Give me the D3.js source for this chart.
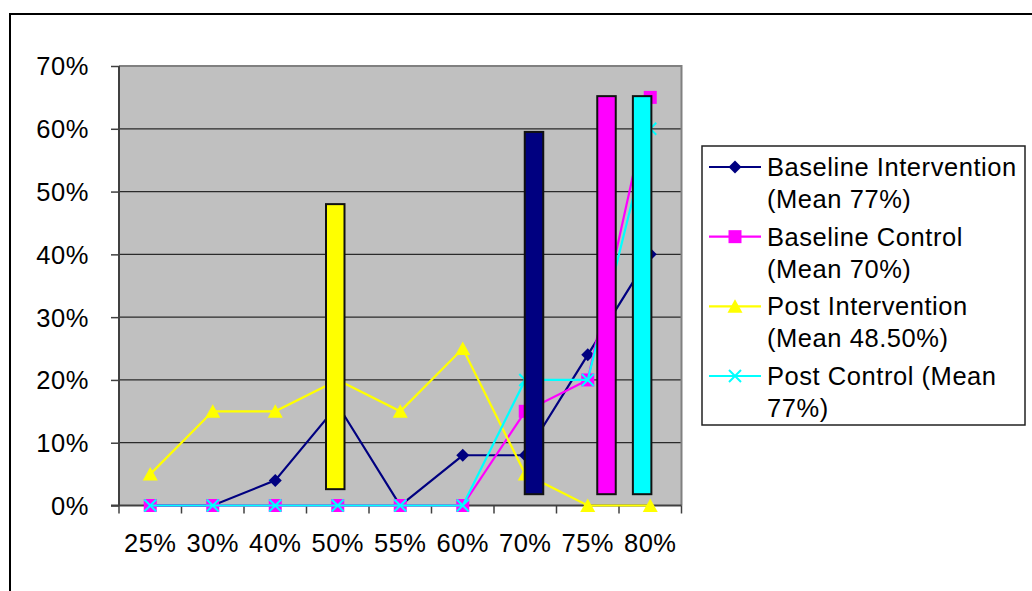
<!DOCTYPE html>
<html>
<head>
<meta charset="utf-8">
<script src="https://cdn.jsdelivr.net/npm/d3@7"></script>
<style>
  html, body { margin: 0; padding: 0; background: #fff; }
  svg { display: block; }
  text { font-family: "Liberation Sans", Arial, sans-serif; fill: #000; }
</style>
</head>
<body>
<svg id="chart" width="1032" height="591"></svg>
<script>
// ---- data ----
const categories = ["25%", "30%", "40%", "50%", "55%", "60%", "70%", "75%", "80%"];
const baselineIntervention = [0, 0, 4, 16, 0, 8, 8, 24, 40];
const baselineControl      = [0, 0, 0, 0, 0, 0, 15, 20, 65];
const postIntervention     = [5, 15, 15, 20, 15, 25, 5, 0, 0];
const postControl          = [0, 0, 0, 0, 0, 0, 20, 20, 60];
const yTickValues = [0, 10, 20, 30, 40, 50, 60, 70];
const yTickLabels = ["0%", "10%", "20%", "30%", "40%", "50%", "60%", "70%"];
const seriesNames = ["Baseline Intervention", "Baseline Control", "Post Intervention", "Post Control"];
const legendLines = [
  ["Baseline Intervention", "(Mean 77%)"],
  ["Baseline Control", "(Mean 70%)"],
  ["Post Intervention", "(Mean 48.50%)"],
  ["Post Control (Mean", "77%)"]
];
// floating bars: which series colour, position in category-index units, low and high values (%)
const barSeries = ["Post Intervention", "Baseline Intervention", "Baseline Control", "Post Control"];
const barPositions = [2.96, 6.14, 7.30, 7.87];
const barLows  = [2.6, 1.8, 1.8, 1.8];
const barHighs = [48, 59.5, 65.2, 65.2];

// ---- styles ----
const colors = {
  "Baseline Intervention": "#000080",
  "Baseline Control": "#ff00ff",
  "Post Intervention": "#ffff00",
  "Post Control": "#00ffff"
};
const markers = {
  "Baseline Intervention": "diamond",
  "Baseline Control": "square",
  "Post Intervention": "triangle",
  "Post Control": "x"
};
const seriesValues = {
  "Baseline Intervention": baselineIntervention,
  "Baseline Control": baselineControl,
  "Post Intervention": postIntervention,
  "Post Control": postControl
};

const svg = d3.select("#chart");
const plot = { left: 119, top: 66, right: 681.5, bottom: 505.5 };
const FONT = 25.5, LS = "0.55px";

// outer frame
svg.append("rect").attr("x", 10).attr("y", 14).attr("width", 1040).attr("height", 600)
  .attr("fill", "none").attr("stroke", "#000").attr("stroke-width", 2);

const x = d3.scaleBand().domain(categories).range([plot.left, plot.right]).padding(0);
const xc = c => x(c) + x.bandwidth() / 2;
const xi = d3.scaleLinear().domain([0, categories.length - 1])
  .range([xc(categories[0]), xc(categories[categories.length - 1])]);
const y = d3.scaleLinear().domain([0, 70]).range([plot.bottom, plot.top]);

// plot area
svg.append("rect").attr("x", plot.left).attr("y", plot.top)
  .attr("width", plot.right - plot.left).attr("height", plot.bottom - plot.top)
  .attr("fill", "#c0c0c0");

// gridlines
svg.append("g").selectAll("line").data(yTickValues.filter(v => v > 0 && v < 70)).join("line")
  .attr("x1", plot.left).attr("x2", plot.right)
  .attr("y1", d => y(d)).attr("y2", d => y(d))
  .attr("stroke", "#2a2a2a").attr("stroke-width", 1.3);
// top and right border of plot area
svg.append("path")
  .attr("d", `M${plot.left},${plot.top}H${plot.right}V${plot.bottom}`)
  .attr("fill", "none").attr("stroke", "#808080").attr("stroke-width", 2);

// y axis
const yAxis = d3.axisLeft(y).tickValues(yTickValues)
  .tickFormat((d, i) => yTickLabels[i]).tickSize(8).tickPadding(22);
const gy = svg.append("g").attr("transform", `translate(${plot.left},0)`).call(yAxis);
gy.select(".domain").attr("stroke", "#404040").attr("stroke-width", 2)
  .attr("d", `M0,${plot.top}V${plot.bottom}`);
gy.selectAll(".tick line").attr("stroke", "#404040").attr("stroke-width", 1.5);
gy.selectAll(".tick text").attr("font-size", FONT).attr("letter-spacing", LS)
  .attr("dy", "0.35em").style("font-family", '"Liberation Sans", Arial, sans-serif').attr("fill", "#000");

// x axis: ticks at category boundaries
const gx = svg.append("g").attr("transform", `translate(0,${plot.bottom})`);
gx.append("line").attr("x1", plot.left - 8).attr("x2", plot.right).attr("y1", 0).attr("y2", 0)
  .attr("stroke", "#404040").attr("stroke-width", 2);
const boundaries = categories.map(c => x(c)).concat([plot.right]);
gx.selectAll("line.tk").data(boundaries).join("line").attr("class", "tk")
  .attr("x1", d => d).attr("x2", d => d).attr("y1", 0).attr("y2", 8)
  .attr("stroke", "#404040").attr("stroke-width", 1.5);
gx.selectAll("text").data(categories).join("text")
  .attr("x", d => xc(d)).attr("y", 46).attr("text-anchor", "middle")
  .attr("font-size", FONT).attr("letter-spacing", LS).text(d => d);

// marker paths
function markerPath(kind) {
  switch (kind) {
    case "diamond": return "M0,-6.5L6.5,0L0,6.5L-6.5,0Z";
    case "square": return "M-6.5,-6.5H6.5V6.5H-6.5Z";
    case "triangle": return "M0,-7L7.5,6.5L-7.5,6.5Z";
    case "x": return "M-6,-6L6,6M-6,6L6,-6";
  }
}
function drawMarker(g, kind, color) {
  const p = g.append("path").attr("d", markerPath(kind));
  if (kind === "x") p.attr("fill", "none").attr("stroke", color).attr("stroke-width", 2);
  else p.attr("fill", color).attr("stroke", "none");
}

// series lines + markers
const line = d3.line().x((d, i) => xc(categories[i])).y(d => y(d));
seriesNames.forEach(name => {
  const vals = seriesValues[name];
  const g = svg.append("g");
  g.append("path").datum(vals).attr("d", line)
    .attr("fill", "none").attr("stroke", colors[name]).attr("stroke-width", 2.2);
  vals.forEach((v, i) => {
    const mg = g.append("g").attr("transform", `translate(${xc(categories[i])},${y(v)})`);
    drawMarker(mg, markers[name], colors[name]);
  });
});

// floating bars (drawn over the lines)
const barW = 18.5;
svg.append("g").selectAll("rect").data(barSeries).join("rect")
  .attr("x", (d, i) => xi(barPositions[i]) - barW / 2)
  .attr("y", (d, i) => y(barHighs[i]))
  .attr("width", barW)
  .attr("height", (d, i) => y(barLows[i]) - y(barHighs[i]))
  .attr("fill", d => colors[d])
  .attr("stroke", "#111").attr("stroke-width", 2);

// legend
const lg = svg.append("g");
lg.append("rect").attr("x", 702).attr("y", 146).attr("width", 323).attr("height", 279)
  .attr("fill", "#fff").attr("stroke", "#222").attr("stroke-width", 1.5);
const itemY = d3.scaleLinear().domain([0, 3]).range([167, 376]);
seriesNames.forEach((name, i) => {
  const yy = itemY(i);
  const g = lg.append("g");
  g.append("line").attr("x1", 709).attr("x2", 761).attr("y1", yy).attr("y2", yy)
    .attr("stroke", colors[name]).attr("stroke-width", 2.2);
  const mg = g.append("g").attr("transform", `translate(735,${yy})`);
  drawMarker(mg, markers[name], colors[name]);
  legendLines[i].forEach((t, j) => {
    g.append("text").attr("x", 767).attr("y", yy + 9 + j * 32)
      .attr("font-size", FONT).attr("letter-spacing", LS).text(t);
  });
});
</script>
</body>
</html>
